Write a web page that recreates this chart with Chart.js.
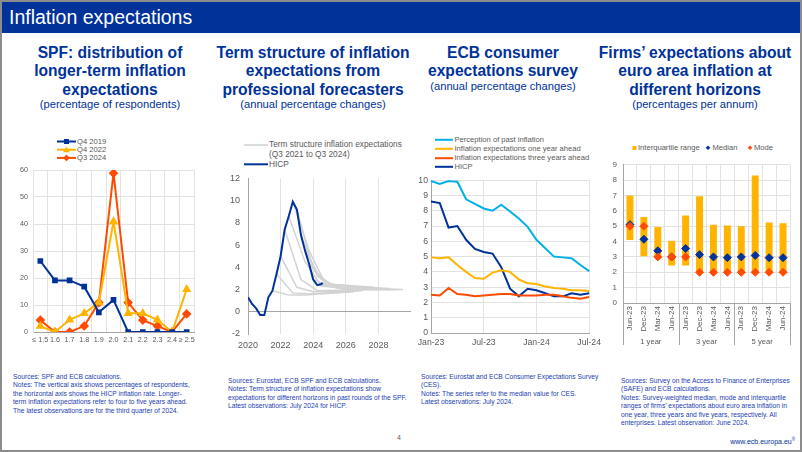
<!DOCTYPE html>
<html>
<head>
<meta charset="utf-8">
<script src="https://cdn.jsdelivr.net/npm/chart.js@4.4.1/dist/chart.umd.min.js"></script>
<style>
  html, body { margin: 0; padding: 0; background: #fff; }
  #slide { position: relative; width: 802px; height: 452px; overflow: hidden; font-family: "Liberation Sans", Arial, sans-serif; }
  .frame { position: absolute; left: 0; top: 0; width: 798px; height: 448px; border: 2px solid #8c8c8c; }
  .topbar { position: absolute; left: 2px; top: 2px; width: 798px; height: 31px; background: #003299; color: #fff; font-size: 19.5px; line-height: 31px; padding-left: 7px; box-sizing: border-box; }
  .ttl { position: absolute; width: 220px; text-align: center; color: #003299; font-weight: bold; font-size: 15.6px; line-height: 18.3px; white-space: nowrap; }
  .sub { position: absolute; width: 220px; text-align: center; color: #003299; font-size: 11.2px; line-height: 13px; white-space: nowrap; }
  canvas { position: absolute; }
  .lg { position: absolute; font-size: 7.6px; color: #595959; white-space: nowrap; line-height: 9px; }
  .lg svg { position: absolute; left: 0; top: 0; }
  .notes { position: absolute; font-size: 6.7px; line-height: 8.55px; color: #2340b0; white-space: nowrap; }
  .pg { position: absolute; left: 397px; top: 434px; font-size: 7px; color: #595959; }
  .url { position: absolute; right: 7px; top: 437px; font-size: 7px; color: #003299; }
  .url sup { font-size: 4.5px; }
</style>
</head>
<body>
<div id="slide">
  <div class="frame"></div>
  <div class="topbar">Inflation expectations</div>

  <div class="ttl" style="left:0px;top:44px">SPF: distribution of<br>longer-term inflation<br>expectations</div>
  <div class="sub" style="left:0px;top:98px">(percentage of respondents)</div>

  <div class="ttl" style="left:203px;top:44px">Term structure of inflation<br>expectations from<br>professional forecasters</div>
  <div class="sub" style="left:203px;top:98px">(annual percentage changes)</div>

  <div class="ttl" style="left:393px;top:44px">ECB consumer<br>expectations survey</div>
  <div class="sub" style="left:393px;top:80px">(annual percentage changes)</div>

  <div class="ttl" style="left:585px;top:44px">Firms’ expectations about<br>euro area inflation at<br>different horizons</div>
  <div class="sub" style="left:585px;top:98px">(percentages per annum)</div>

  <!-- legends -->
  <div class="lg" style="left:57px;top:137px;width:60px;height:26px">
    <svg width="20" height="26">
      <line x1="0" y1="4.5" x2="19" y2="4.5" stroke="#003299" stroke-width="2"/>
      <rect x="7" y="2" width="5" height="5" fill="#003299"/>
      <line x1="0" y1="12.7" x2="19" y2="12.7" stroke="#FFB400" stroke-width="2"/>
      <polygon points="9.5,9.7 13,15.2 6,15.2" fill="#FFB400"/>
      <line x1="0" y1="20.9" x2="19" y2="20.9" stroke="#FF4B00" stroke-width="2"/>
      <polygon points="9.5,17.6 12.8,20.9 9.5,24.2 6.2,20.9" fill="#FF4B00"/>
    </svg>
    <div style="position:absolute;left:20px;top:0px">Q4 2019</div>
    <div style="position:absolute;left:20px;top:8.2px">Q4 2022</div>
    <div style="position:absolute;left:20px;top:16.4px">Q3 2024</div>
  </div>

  <div class="lg" style="left:244px;top:140px;width:170px;height:30px;font-size:8.3px">
    <svg width="25" height="30">
      <line x1="0" y1="5" x2="24" y2="5" stroke="#d0d0d0" stroke-width="1.5"/>
      <line x1="0" y1="24.3" x2="24" y2="24.3" stroke="#003299" stroke-width="2"/>
    </svg>
    <div style="position:absolute;left:25px;top:0px">Term structure inflation expectations</div>
    <div style="position:absolute;left:25px;top:10px">(Q3 2021 to Q3 2024)</div>
    <div style="position:absolute;left:25px;top:19.5px">HICP</div>
  </div>

  <div class="lg" style="left:435px;top:134.5px;width:170px;height:38px">
    <svg width="20" height="38">
      <line x1="0" y1="4.8" x2="18" y2="4.8" stroke="#00B1EA" stroke-width="2"/>
      <line x1="0" y1="13.8" x2="18" y2="13.8" stroke="#FFB400" stroke-width="2"/>
      <line x1="0" y1="23.2" x2="18" y2="23.2" stroke="#FF4B00" stroke-width="2"/>
      <line x1="0" y1="31.8" x2="18" y2="31.8" stroke="#003299" stroke-width="2"/>
    </svg>
    <div style="position:absolute;left:19.5px;top:0px">Perception of past inflation</div>
    <div style="position:absolute;left:19.5px;top:9px">Inflation expectations one year ahead</div>
    <div style="position:absolute;left:19.5px;top:18.4px">Inflation expectations three years ahead</div>
    <div style="position:absolute;left:19.5px;top:27px">HICP</div>
  </div>

  <div class="lg" style="left:631px;top:142.8px;width:160px;height:10px">
    <svg width="160" height="10">
      <rect x="1.5" y="3" width="4" height="4" fill="#FFB400"/>
      <polygon points="77,2.5 79.3,4.8 77,7.1 74.7,4.8" fill="#003299"/>
      <polygon points="119,2.5 121.3,4.8 119,7.1 116.7,4.8" fill="#FF4B00"/>
    </svg>
    <div style="position:absolute;left:7px;top:0px">Interquartile range</div>
    <div style="position:absolute;left:81.5px;top:0px">Median</div>
    <div style="position:absolute;left:123px;top:0px">Mode</div>
  </div>

  <canvas id="c1" width="200" height="190" style="left:0px;top:160px"></canvas>
  <canvas id="c2" width="206" height="185" style="left:205px;top:165px"></canvas>
  <canvas id="c3" width="195" height="178" style="left:410px;top:172px"></canvas>
  <canvas id="c4" width="202" height="202" style="left:600px;top:154px"></canvas>

  <div class="notes" style="left:13px;top:372.5px">Sources: SPF and ECB calculations.<br>Notes: The vertical axis shows percentages of respondents,<br>the horizontal axis shows the HICP inflation rate. Longer-<br>term inflation expectations refer to four to five years ahead.<br>The latest observations are for the third quarter of 2024.</div>
  <div class="notes" style="left:228px;top:376.5px">Sources: Eurostat, ECB SPF and ECB calculations.<br>Notes: Term structure of inflation expectations show<br>expectations for different horizons in past rounds of the SPF.<br>Latest observations: July 2024 for HICP.</div>
  <div class="notes" style="left:421px;top:372.5px">Sources: Eurostat and ECB Consumer Expectations Survey<br>(CES).<br>Notes: The series refer to the median value for CES.<br>Latest observations: July 2024.</div>
  <div class="notes" style="left:621px;top:376.5px">Sources: Survey on the Access to Finance of Enterprises<br>(SAFE) and ECB calculations.<br>Notes: Survey-weighted median, mode and interquartile<br>ranges of firms’ expectations about euro area inflation in<br>one year, three years and five years, respectively. All<br>enterprises. Latest observation: June 2024.</div>

  <div class="pg">4</div>
  <div class="url">www.ecb.europa.eu<sup>®</sup></div>
</div>

<script>
// --- SPF distribution (percentage of respondents) ---
const spfBins = ['≤ 1.5', '1.6', '1.7', '1.8', '1.9', '2.0', '2.1', '2.2', '2.3', '2.4', '≥ 2.5'];
const spfQ42019 = [26.3, 19.1, 19.1, 16.8, 7.3, 11.9, 0, 0, 0, 0, 0];
const spfQ42022 = [2.2, 0, 4.5, 6.9, 10.9, 40.9, 6.9, 6.9, 4.5, 0, 15.8];
const spfQ32024 = [4.4, 0, 0, 2.2, 10.9, 58.8, 10.9, 4.4, 2.2, 0, 6.7];

// --- Term structure (SPF rounds) and HICP ---
const hicpDates = [2020, 2020.25, 2020.5, 2020.75, 2021, 2021.25, 2021.5, 2021.75, 2022, 2022.25,
                   2022.5, 2022.75, 2023, 2023.25, 2023.5, 2023.75, 2024, 2024.25, 2024.5, 2024.583];
const hicpRate = [1.3, 0.7, 0.3, -0.3, -0.3, 1.3, 1.9, 3.4, 5.0, 7.4,
                  8.6, 9.9, 9.2, 6.9, 5.5, 4.3, 2.9, 2.4, 2.5, 2.6];
const termRounds = ['Q3 2021', 'Q4 2021', 'Q1 2022', 'Q2 2022', 'Q3 2022', 'Q4 2022', 'Q1 2023',
                    'Q2 2023', 'Q3 2023', 'Q4 2023', 'Q1 2024', 'Q2 2024', 'Q3 2024'];
const termStart = [2021.5, 2021.75, 2022, 2022.25, 2022.5, 2022.75, 2023,
                   2023.25, 2023.5, 2023.75, 2024, 2024.25, 2024.5];
const termHorizons = [0, 1, 2, 5]; // latest, one year, two years, longer term
const termValues = [
  [1.9, 1.5, 1.5, 1.8],
  [3.4, 1.7, 1.6, 1.9],
  [5.0, 2.2, 1.8, 1.9],
  [7.4, 2.9, 1.9, 2.0],
  [8.6, 4.5, 2.3, 2.1],
  [9.9, 5.5, 2.5, 2.2],
  [9.2, 3.8, 2.5, 2.1],
  [6.9, 3.2, 2.4, 2.1],
  [5.5, 2.9, 2.2, 2.1],
  [4.3, 2.7, 2.1, 2.1],
  [2.9, 2.3, 2.0, 2.0],
  [2.4, 2.2, 2.0, 2.0],
  [2.5, 2.2, 2.0, 2.0]
];

// --- ECB consumer expectations survey ---
const cesMonths = ['Jan-23', 'Feb-23', 'Mar-23', 'Apr-23', 'May-23', 'Jun-23', 'Jul-23', 'Aug-23', 'Sep-23', 'Oct-23',
                   'Nov-23', 'Dec-23', 'Jan-24', 'Feb-24', 'Mar-24', 'Apr-24', 'May-24', 'Jun-24', 'Jul-24'];
const cesPerceived = [9.95, 9.75, 9.95, 9.9, 8.75, 8.45, 8.15, 8.0, 8.4, 7.95,
                      7.5, 6.95, 6.1, 5.55, 5.0, 4.95, 4.9, 4.45, 4.05];
const cesOneYear = [4.95, 4.9, 4.95, 4.45, 4.0, 3.6, 3.55, 3.95, 4.1, 4.0,
                    3.5, 3.25, 3.2, 3.05, 2.95, 2.9, 2.8, 2.8, 2.75];
const cesThreeYear = [2.5, 2.45, 2.95, 2.55, 2.5, 2.4, 2.45, 2.5, 2.55, 2.55,
                      2.45, 2.45, 2.45, 2.5, 2.5, 2.4, 2.3, 2.25, 2.35];
const cesHicp = [8.6, 8.5, 6.9, 7.0, 6.1, 5.5, 5.3, 5.2, 4.3, 2.9,
                 2.4, 2.9, 2.8, 2.6, 2.4, 2.4, 2.6, 2.5, 2.6];

// --- SAFE firms' expectations ---
const firmHorizons = ['1 year', '3 year', '5 year'];
const firmPeriods = ['Jun-23', 'Dec-23', 'Mar-24', 'Jun-24', 'Jun-23', 'Dec-23', 'Mar-24', 'Jun-24',
                     'Jun-23', 'Dec-23', 'Mar-24', 'Jun-24'];
const firmQ1 = [4.1, 3.05, 3.0, 2.45, 2.45, 2.0, 2.0, 2.0, 2.0, 2.0, 2.0, 2.0];
const firmQ3 = [7.0, 5.6, 4.95, 4.05, 5.7, 6.95, 5.1, 5.05, 5.0, 8.3, 5.25, 5.2];
const firmMedian = [5.1, 4.15, 3.4, 3.0, 3.55, 3.15, 3.0, 2.95, 3.0, 3.1, 2.95, 2.95];
const firmMode = [5.0, 5.0, 3.0, 3.0, 3.0, 2.0, 2.0, 2.0, 2.0, 2.0, 2.0, 2.0];

const NAVY = '#003299', YELLOW = '#FFB400', ORANGE = '#FF4B00', SKY = '#00B1EA';
const GRID = '#e2e2e2', AXIS = '#a6a6a6', TXT = '#595959';

Chart.defaults.font.family = '"Liberation Sans", Arial, sans-serif';
Chart.defaults.color = TXT;
Chart.defaults.animation = false;
Chart.defaults.responsive = false;
Chart.defaults.devicePixelRatio = 1;
Chart.defaults.plugins.legend.display = false;
Chart.defaults.plugins.tooltip.enabled = false;

const fixW = (w) => (s) => { s.width = w; };
const fixH = (h) => (s) => { s.height = h; };

// chart 1
new Chart(document.getElementById('c1'), {
  type: 'line',
  data: {
    labels: spfBins,
    datasets: [
      { data: spfQ42019, borderColor: NAVY, backgroundColor: NAVY, borderWidth: 2, pointStyle: 'rect', pointRadius: 2.6 },
      { data: spfQ42022, borderColor: YELLOW, backgroundColor: YELLOW, borderWidth: 2, pointStyle: 'triangle', pointRadius: 3.4 },
      { data: spfQ32024, borderColor: ORANGE, backgroundColor: ORANGE, borderWidth: 2, pointStyle: 'rectRot', pointRadius: 3.4 }
    ]
  },
  options: {
    layout: { padding: { top: 10, right: 4, left: 0, bottom: 0 } },
    scales: {
      x: {
        offset: true,
        grid: { offset: true, color: GRID, drawTicks: false },
        border: { color: AXIS },
        ticks: { font: { size: 7.2 }, padding: 4, maxRotation: 0, autoSkip: false },
        afterFit: fixH(18)
      },
      y: {
        min: 0, max: 60,
        grid: { color: GRID, drawTicks: false },
        border: { color: GRID },
        ticks: { stepSize: 10, font: { size: 7.2 }, padding: 5 },
        afterFit: fixW(33)
      }
    }
  }
});

// chart 2 (HICP drawn on top of the grey fan)
const termSets = termRounds.map((r, i) => ({
  label: r,
  data: termHorizons.map((h, k) => ({ x: termStart[i] + h, y: termValues[i][k] })),
  borderColor: '#d3d3d3', borderWidth: 1.5, pointRadius: 0, order: 1
}));
new Chart(document.getElementById('c2'), {
  type: 'line',
  data: {
    datasets: [
      ...termSets,
      { label: 'HICP', data: hicpDates.map((d, i) => ({ x: d, y: hicpRate[i] })), borderColor: NAVY, borderWidth: 2, pointRadius: 0, order: 0 }
    ]
  },
  options: {
    layout: { padding: { top: 8, right: 0, left: 0, bottom: 0 } },
    scales: {
      x: {
        type: 'linear', min: 2020, max: 2030,
        grid: { color: GRID, drawTicks: false },
        border: { display: false },
        ticks: { stepSize: 2, font: { size: 9 }, padding: 6, maxRotation: 0,
                 callback: (v) => v < 2030 ? String(v) : null },
        afterFit: fixH(16)
      },
      y: {
        min: -2, max: 12,
        grid: { color: (c) => c.tick.value === 0 ? AXIS : 'rgba(0,0,0,0)', drawTicks: false },
        border: { color: AXIS },
        ticks: { stepSize: 2, font: { size: 9 }, padding: 8 },
        afterFit: fixW(43)
      }
    }
  }
});

// chart 3
const cesLine = (data, color) => ({ data, borderColor: color, borderWidth: 2, pointRadius: 0 });
new Chart(document.getElementById('c3'), {
  type: 'line',
  data: {
    labels: cesMonths,
    datasets: [
      cesLine(cesPerceived, SKY),
      cesLine(cesOneYear, YELLOW),
      cesLine(cesThreeYear, ORANGE),
      cesLine(cesHicp, NAVY)
    ]
  },
  options: {
    layout: { padding: { top: 8, right: 12, left: 0, bottom: 0 } },
    scales: {
      x: {
        grid: { color: GRID, drawTicks: false },
        border: { color: AXIS },
        ticks: { font: { size: 8.7 }, padding: 4, maxRotation: 0, autoSkip: false,
                 callback: (v, i) => i % 6 === 0 ? cesMonths[i] : null },
        afterFit: fixH(17)
      },
      y: {
        min: 0, max: 10,
        grid: { color: GRID, drawTicks: false },
        border: { color: AXIS },
        ticks: { stepSize: 1, font: { size: 8.7 }, padding: 3 },
        afterFit: fixW(21)
      }
    }
  }
});

// chart 4 - horizon groups under the axis
const horizonGroups = {
  id: 'horizonGroups',
  afterDraw(chart) {
    const { ctx, scales: { x }, chartArea } = chart;
    const per = firmPeriods.length / firmHorizons.length;
    const w = (x.right - x.left) / firmPeriods.length;
    ctx.save();
    ctx.strokeStyle = AXIS;
    ctx.lineWidth = 1;
    for (let g = 0; g <= firmHorizons.length; g++) {
      const px = Math.round(x.left + g * per * w) + 0.5;
      ctx.beginPath();
      ctx.moveTo(px, chartArea.bottom);
      ctx.lineTo(px, chartArea.bottom + 42);
      ctx.stroke();
    }
    ctx.fillStyle = TXT;
    ctx.font = '7.6px "Liberation Sans", Arial, sans-serif';
    ctx.textAlign = 'center';
    ctx.textBaseline = 'middle';
    firmHorizons.forEach((h, g) => ctx.fillText(h, x.left + (g * per + per / 2) * w, chartArea.bottom + 39));
    ctx.restore();
  }
};

new Chart(document.getElementById('c4'), {
  type: 'bar',
  data: {
    labels: firmPeriods,
    datasets: [
      { type: 'line', data: firmMode, showLine: false, pointStyle: 'rectRot', pointRadius: 4,
        backgroundColor: ORANGE, borderColor: ORANGE, order: 0 },
      { type: 'line', data: firmMedian, showLine: false, pointStyle: 'rectRot', pointRadius: 4,
        backgroundColor: NAVY, borderColor: NAVY, order: 1 },
      { data: firmQ1.map((lo, i) => [lo, firmQ3[i]]), backgroundColor: YELLOW, borderWidth: 0,
        barPercentage: 0.5, categoryPercentage: 1, order: 2 }
    ]
  },
  options: {
    layout: { padding: { top: 8, right: 12, left: 0, bottom: 0 } },
    scales: {
      x: {
        grid: { offset: true, color: GRID, drawTicks: false },
        border: { color: AXIS },
        ticks: { font: { size: 8 }, padding: 3, minRotation: 90, maxRotation: 90, autoSkip: false },
        afterFit: fixH(53)
      },
      y: {
        min: 0, max: 9,
        grid: { color: GRID, drawTicks: false },
        border: { color: AXIS },
        ticks: { stepSize: 1, font: { size: 8 }, padding: 6 },
        afterFit: fixW(23)
      }
    }
  },
  plugins: [horizonGroups]
});
</script>
</body>
</html>
